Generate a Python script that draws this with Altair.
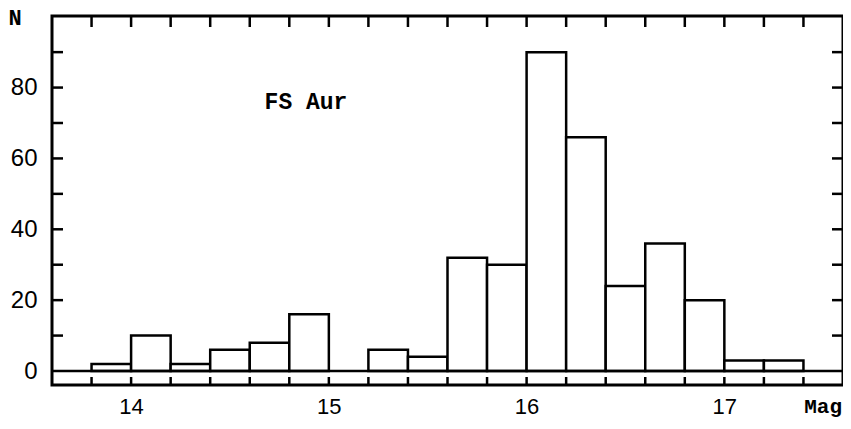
import altair as alt
import pandas as pd

bin_start = [13.8, 14.0, 14.2, 14.4, 14.6, 14.8, 15.0, 15.2, 15.4, 15.6, 15.8,
             16.0, 16.2, 16.4, 16.6, 16.8, 17.0, 17.2]
counts = [2, 10, 2, 6, 8, 16, 0, 6, 4, 32, 30, 90, 66, 24, 36, 20, 3, 3]
bin_width = 0.2

x_labels = [14, 15, 16, 17]
y_labels = [0, 20, 40, 60, 80]
x_minor = [13.8, 14.0, 14.2, 14.4, 14.6, 14.8, 15.0, 15.2, 15.4, 15.6, 15.8,
           16.0, 16.2, 16.4, 16.6, 16.8, 17.0, 17.2, 17.4]
y_minor = [10, 20, 30, 40, 50, 60, 70, 80, 90]

X_DOMAIN = [13.6, 17.6]
Y_DOMAIN = [-3.95, 100.2]
W, H = 791, 369

bars_df = pd.DataFrame({
    "start": bin_start,
    "end": [round(s + bin_width, 2) for s in bin_start],
    "n": counts,
})
bars_df = bars_df[bars_df["n"] > 0]

xs = alt.Scale(domain=X_DOMAIN, nice=False, zero=False)
ys = alt.Scale(domain=Y_DOMAIN, nice=False, zero=False)

label_font = "Liberation Sans"
tt_font = "Liberation Mono"
LW = 2.5

bars = alt.Chart(bars_df).mark_bar(
    fill="white", stroke="black", strokeWidth=LW, cornerRadius=0
).encode(
    x=alt.X("start:Q", scale=xs,
            axis=alt.Axis(values=x_labels, format="d", ticks=False, domain=False,
                          grid=False, labelFontSize=22, labelFont=label_font,
                          labelColor="black", labelPadding=11, title=None)),
    x2="end:Q",
    y=alt.Y("n:Q", scale=ys,
            axis=alt.Axis(values=y_labels, format="d", ticks=False, domain=False,
                          grid=False, labelFontSize=24, labelFont=label_font,
                          labelColor="black", labelPadding=15, title=None)),
    y2=alt.datum(0),
)

zero_line = alt.Chart(pd.DataFrame({"z": [0]})).mark_rule(
    color="black", strokeWidth=LW
).encode(y=alt.Y("z:Q", scale=ys), x=alt.value(0), x2=alt.value(W))

xt_df = pd.DataFrame({"t": x_minor})
top_ticks = alt.Chart(xt_df).mark_rule(color="black", strokeWidth=LW).encode(
    x=alt.X("t:Q", scale=xs), y=alt.value(0), y2=alt.value(11))
bot_ticks = alt.Chart(xt_df).mark_rule(color="black", strokeWidth=LW).encode(
    x=alt.X("t:Q", scale=xs), y=alt.value(H), y2=alt.value(H - 8))

yt_df = pd.DataFrame({"t": y_minor})
left_ticks = alt.Chart(yt_df).mark_rule(color="black", strokeWidth=LW).encode(
    y=alt.Y("t:Q", scale=ys), x=alt.value(0), x2=alt.value(11))
right_ticks = alt.Chart(yt_df).mark_rule(color="black", strokeWidth=LW).encode(
    y=alt.Y("t:Q", scale=ys), x=alt.value(W), x2=alt.value(W - 11))

title_txt = alt.Chart(pd.DataFrame({"label": ["FS Aur"]})).mark_text(
    font=tt_font, fontWeight="bold", fontSize=23, color="black"
).encode(text="label:N", x=alt.value(254), y=alt.value(86))

n_txt = alt.Chart(pd.DataFrame({"label": ["N"]})).mark_text(
    font=tt_font, fontWeight="bold", fontSize=22, color="black"
).encode(text="label:N", x=alt.value(-37), y=alt.value(2))

mag_txt = alt.Chart(pd.DataFrame({"label": ["Mag"]})).mark_text(
    font=tt_font, fontWeight="bold", fontSize=21, color="black",
    align="right", baseline="alphabetic"
).encode(text="label:N", x=alt.value(790), y=alt.value(397))

chart = alt.layer(
    bars, zero_line, top_ticks, bot_ticks, left_ticks, right_ticks,
    title_txt, n_txt, mag_txt
).properties(
    width=W, height=H,
    autosize=alt.AutoSizeParams(type="none"),
    padding={"left": 44, "top": 8, "right": 0, "bottom": 36},
    background="white",
).configure_view(stroke="black", strokeWidth=3)

chart.save("out.html", embed_options={"renderer": "svg", "actions": False})
